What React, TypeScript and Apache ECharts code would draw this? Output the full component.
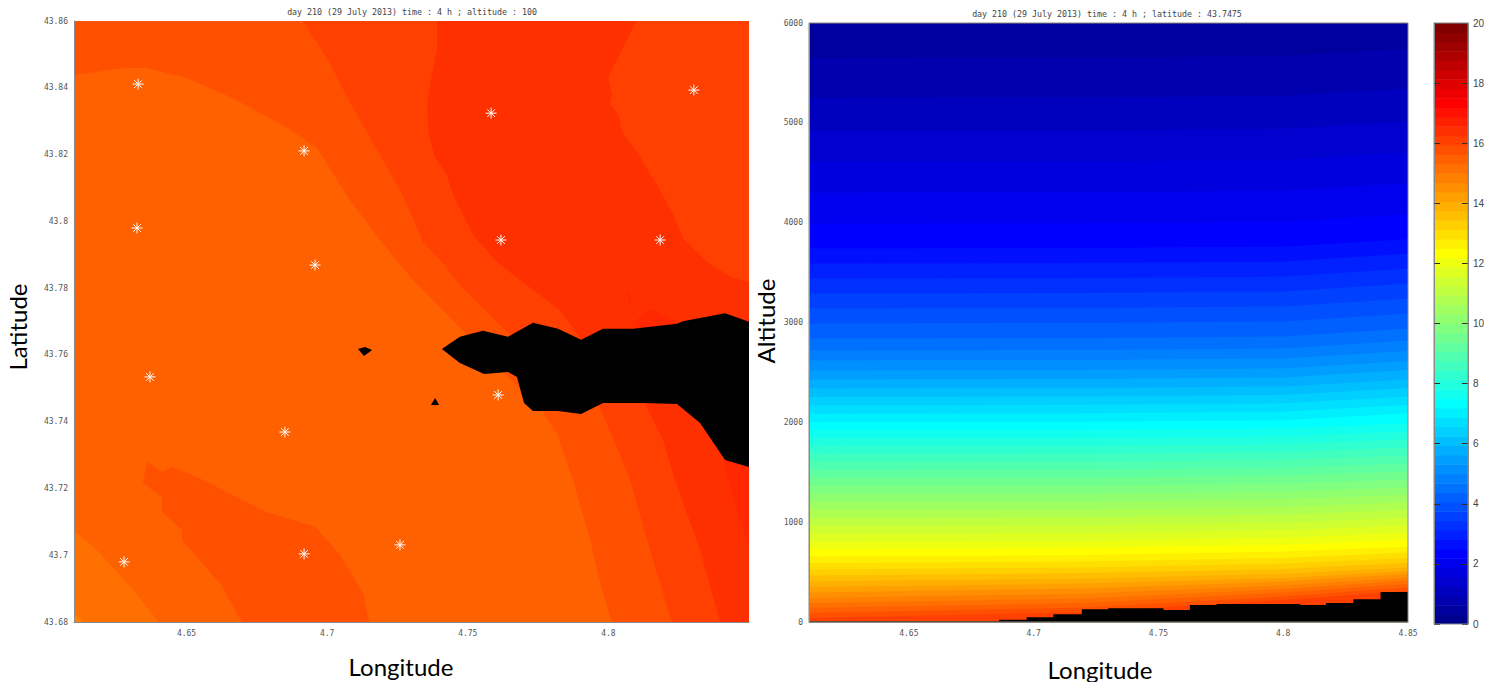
import React, { useEffect, useRef } from "react";
import * as echarts from "echarts";

// ---- tick labels ----
const mapLonTicks = [4.65, 4.7, 4.75, 4.8];
const sectionLonTicks = [4.65, 4.7, 4.75, 4.8, 4.85];
const latTicks = [43.68, 43.7, 43.72, 43.74, 43.76, 43.78, 43.8, 43.82, 43.84, 43.86];
const altitudeTicks = [0, 1000, 2000, 3000, 4000, 5000, 6000];
const colorbarTicks = [0, 2, 4, 6, 8, 10, 12, 14, 16, 18, 20];

const mapTitle = "day 210 (29 July 2013) time : 4 h ; altitude : 100";
const sectionTitle = "day 210 (29 July 2013) time : 4 h ; latitude : 43.7475";

// ---- left panel: stations [lon, lat] ----
const stations = [
  [4.6328, 43.8411], [4.6918, 43.8211], [4.6324, 43.798], [4.6957, 43.7869], [4.637, 43.7534],
  [4.685, 43.7369], [4.6278, 43.698], [4.6918, 43.7004], [4.7259, 43.7031], [4.7583, 43.8324],
  [4.7618, 43.7944], [4.7608, 43.748], [4.8304, 43.8393], [4.8184, 43.7944],
];

// ---- left panel: filled temperature contours [lon, lat] ----
const contourBase = [[4.61, 43.68], [4.85, 43.68], [4.85, 43.86], [4.61, 43.86]];
const contourNorthEast = [
  [4.61, 43.8438], [4.6274, 43.8459], [4.636, 43.8459], [4.6502, 43.8429], [4.6665, 43.8369], [4.6857, 43.828],
  [4.6964, 43.822], [4.7081, 43.8064], [4.7188, 43.7944], [4.7305, 43.7824], [4.7497, 43.766], [4.7768, 43.7429],
  [4.7817, 43.7366], [4.7874, 43.7225], [4.7935, 43.7046], [4.7977, 43.6896], [4.8013, 43.68], [4.85, 43.68],
  [4.85, 43.86], [4.61, 43.86],
];
const contourSouthPatch = [
  [4.636, 43.7282], [4.6413, 43.7249], [4.6448, 43.7264], [4.6537, 43.7234], [4.6786, 43.7129], [4.6957, 43.7085],
  [4.7046, 43.7001], [4.7128, 43.6887], [4.7149, 43.68], [4.6697, 43.68], [4.6619, 43.6917], [4.6555, 43.6977],
  [4.6484, 43.7046], [4.6484, 43.7076], [4.6413, 43.7129], [4.6413, 43.7174], [4.6345, 43.7216],
];
const contourSouthWest = [[4.61, 43.7073], [4.6192, 43.7007], [4.631, 43.6896], [4.6402, 43.68], [4.61, 43.68]];
const contourCorner = [[4.61, 43.6827], [4.6132, 43.68], [4.61, 43.68]];
const contourEast = [
  [4.6914, 43.86], [4.6964, 43.8534], [4.701, 43.8474], [4.7071, 43.8372], [4.7259, 43.8094], [4.7295, 43.8028],
  [4.7341, 43.7938], [4.7412, 43.7875], [4.7472, 43.7809], [4.765, 43.766], [4.797, 43.7441], [4.8016, 43.7354],
  [4.8077, 43.7225], [4.8148, 43.7016], [4.8226, 43.68], [4.85, 43.68], [4.85, 43.86],
];
const contourCore = [
  [4.7391, 43.86], [4.7391, 43.8519], [4.7355, 43.8357], [4.7359, 43.8268], [4.7384, 43.819], [4.7426, 43.8139],
  [4.7448, 43.8079], [4.7519, 43.7959], [4.7604, 43.7878], [4.7686, 43.7824], [4.7828, 43.7734], [4.7903, 43.7645],
  [4.85, 43.7645], [4.85, 43.7818], [4.8443, 43.783], [4.8351, 43.7878], [4.8265, 43.795], [4.8226, 43.8028],
  [4.8173, 43.8109], [4.8102, 43.8208], [4.8048, 43.8268], [4.8041, 43.8309], [4.8006, 43.8354], [4.8013, 43.8378],
  [4.7999, 43.8432], [4.8052, 43.8519], [4.8098, 43.86],
];
const contourCoreSouth = [
  [4.813, 43.7456], [4.8194, 43.7345], [4.8237, 43.7225], [4.8326, 43.7016], [4.8397, 43.68], [4.85, 43.68],
  [4.85, 43.76], [4.813, 43.76],
];
const contourHotSouth = [[4.8408, 43.7291], [4.8425, 43.7225], [4.8468, 43.7105], [4.85, 43.7031], [4.85, 43.7285]];
const contourHotPatch = [[4.8088, 43.7699], [4.8155, 43.7737], [4.8248, 43.7696], [4.8184, 43.7669], [4.8112, 43.7669]];
const contourHotSliver = [[4.8066, 43.7785], [4.808, 43.7785], [4.8077, 43.7749]];
const terrainMain = [
  [4.7408, 43.7618], [4.7472, 43.7654], [4.7554, 43.7672], [4.7643, 43.7654], [4.7732, 43.7696], [4.7821, 43.7678],
  [4.7903, 43.7645], [4.7981, 43.7678], [4.8088, 43.7678], [4.8244, 43.7693], [4.8265, 43.7701], [4.8415, 43.7725],
  [4.85, 43.7699], [4.85, 43.7264], [4.8415, 43.7285], [4.8326, 43.7396], [4.8244, 43.7453], [4.813, 43.7456],
  [4.7981, 43.7456], [4.7903, 43.7423], [4.7821, 43.7432], [4.7732, 43.7432], [4.77, 43.7456], [4.7675, 43.7534],
  [4.7643, 43.7549], [4.7558, 43.7543], [4.7472, 43.7576],
];
const terrainIslandA = [[4.711, 43.7618], [4.7135, 43.7624], [4.716, 43.7615], [4.7131, 43.7597]];
const terrainIslandB = [[4.7369, 43.745], [4.7398, 43.745], [4.7384, 43.7471]];

const mapRegions = [
  { points: contourBase, fill: "#ff6000" },
  { points: contourSouthWest, fill: "#ff7000" },
  { points: contourCorner, fill: "#ff8000" },
  { points: contourSouthPatch, fill: "#ff5000" },
  { points: contourNorthEast, fill: "#ff5000" },
  { points: contourEast, fill: "#ff4000" },
  { points: contourCore, fill: "#ff3000" },
  { points: contourCoreSouth, fill: "#ff3000" },
  { points: contourHotSouth, fill: "#ff2800" },
  { points: contourHotPatch, fill: "#ff2800" },
  { points: contourHotSliver, fill: "#ff2800" },
  { points: terrainMain, fill: "#000000" },
  { points: terrainIslandA, fill: "#000000" },
  { points: terrainIslandB, fill: "#000000" },
];

// ---- right panel: altitude of each isotherm (colour band 1..51) at four longitudes ----
const isothermLons = [4.61, 4.72, 4.8, 4.85];
const isothermAt461 = [5650, 5250, 4920, 4610, 4300, 3990, 3740, 3590, 3440, 3290, 3140, 2990, 2840, 2720, 2620, 2520, 2430, 2340, 2255, 2170, 2085, 2000, 1920, 1840, 1760, 1680, 1600, 1520, 1440, 1360, 1280, 1200, 1120, 1040, 960, 880, 800, 725, 655, 590, 525, 465, 405, 350, 295, 240, 190, 140, 90, 40, 0];
const isothermAt472 = [5655, 5255, 4925, 4615, 4305, 3995, 3745, 3595, 3445, 3295, 3145, 2995, 2845, 2725, 2625, 2525, 2435, 2345, 2260, 2175, 2090, 2005, 1925, 1845, 1765, 1685, 1605, 1525, 1445, 1365, 1285, 1205, 1125, 1050, 970, 890, 810, 740, 670, 605, 545, 490, 435, 385, 335, 285, 235, 190, 145, 100, 0];
const isothermAt480 = [5670, 5270, 4940, 4630, 4320, 4010, 3760, 3610, 3460, 3310, 3160, 3010, 2860, 2740, 2640, 2540, 2450, 2360, 2275, 2190, 2105, 2020, 1940, 1860, 1780, 1700, 1625, 1545, 1465, 1385, 1305, 1230, 1150, 1075, 995, 920, 845, 775, 705, 640, 585, 530, 480, 440, 405, 365, 330, 295, 255, 220, 0];
const isothermAt485 = [5745, 5345, 5015, 4705, 4395, 4085, 3835, 3690, 3540, 3390, 3240, 3090, 2940, 2820, 2715, 2615, 2525, 2430, 2345, 2260, 2175, 2090, 1990, 1910, 1830, 1750, 1670, 1590, 1510, 1430, 1350, 1275, 1200, 1125, 1045, 970, 895, 825, 755, 695, 640, 590, 545, 510, 480, 445, 415, 380, 345, 310, 0];
const isothermColumns = [isothermAt461, isothermAt472, isothermAt480, isothermAt485];

// ---- right panel: terrain steps (altitude holds from each lon to the next) ----
const terrainLon = [4.61, 4.6862, 4.6972, 4.7079, 4.7193, 4.7299, 4.752, 4.7626, 4.7733, 4.8067, 4.8171, 4.8281, 4.839, 4.85];
const terrainAlt = [7, 23, 47, 77, 127, 137, 120, 170, 180, 170, 190, 227, 300];

// ---- colour bar: lower edge of each of the 64 bands ----
const colorbarEdges = [
  0, 0.3125, 0.625, 0.9375, 1.25, 1.5625, 1.875, 2.1875, 2.5, 2.8125, 3.125, 3.4375, 3.75, 4.0625, 4.375, 4.6875,
  5, 5.3125, 5.625, 5.9375, 6.25, 6.5625, 6.875, 7.1875, 7.5, 7.8125, 8.125, 8.4375, 8.75, 9.0625, 9.375, 9.6875,
  10, 10.3125, 10.625, 10.9375, 11.25, 11.5625, 11.875, 12.1875, 12.5, 12.8125, 13.125, 13.4375, 13.75, 14.0625, 14.375, 14.6875,
  15, 15.3125, 15.625, 15.9375, 16.25, 16.5625, 16.875, 17.1875, 17.5, 17.8125, 18.125, 18.4375, 18.75, 19.0625, 19.375, 19.6875,
];
const colorbarTop = 20;

// Jet colour map, 64 steps
function jet(index: number): string {
  const k = index + 1;
  const g = k <= 8 ? 0 : k <= 24 ? (k - 8) / 16 : k <= 40 ? 1 : k <= 56 ? (56 - k) / 16 : 0;
  const r = k <= 24 ? 0 : k <= 40 ? (k - 24) / 16 : k <= 56 ? 1 : (72 - k) / 16;
  const b = k <= 8 ? (k + 8) / 16 : k <= 24 ? 1 : k <= 40 ? (40 - k) / 16 : 0;
  const hex = (v: number) => Math.round(v * 255).toString(16).padStart(2, "0");
  return "#" + hex(r) + hex(g) + hex(b);
}

const MONO = "'DejaVu Sans Mono', monospace";
const tickStyle = { fontFamily: MONO, fontSize: 8, color: "#555555" };
const frameLine = { show: true, onZero: false, lineStyle: { color: "#8a8a8a", width: 1 } };

function lonAxis(gridIndex: number, ticks: number[]) {
  return {
    type: "value", gridIndex, min: 4.61, max: 4.85, z: 10, splitLine: { show: false },
    axisLine: frameLine,
    axisTick: { show: false },
    axisLabel: { ...tickStyle, margin: 7, customValues: ticks, showMinLabel: true, showMaxLabel: true, formatter: (v: number) => String(v) },
  };
}

function valueAxis(gridIndex: number, min: number, max: number, ticks: number[]) {
  return {
    type: "value", gridIndex, min, max, z: 10, splitLine: { show: false },
    axisLine: frameLine,
    axisTick: { show: false },
    axisLabel: { ...tickStyle, margin: 6, customValues: ticks, showMinLabel: true, showMaxLabel: true, formatter: (v: number) => String(v) },
  };
}

function axisTitle(text: string, x: number, y: number, vertical: boolean) {
  return {
    type: "text", x, y, rotation: vertical ? Math.PI / 2 : 0, z: 20,
    style: { text, fontFamily: "Lato, sans-serif", fontSize: 24, fill: "#000000", align: "center", verticalAlign: "middle" },
  };
}

export default function App() {
  const ref = useRef<HTMLDivElement>(null);

  useEffect(() => {
    document.body.style.margin = "0";
    const chart = echarts.init(ref.current!, undefined, { renderer: "svg" });

    const mapRender = (params: any, api: any) => {
      const region = mapRegions[params.dataIndex];
      return {
        type: "polygon",
        shape: { points: region.points.map((p) => api.coord(p)) },
        style: { fill: region.fill },
      };
    };

    // Painted from the ground upwards, each band covering everything above it.
    const sectionRender = (params: any, api: any) => {
      const row = isothermAt461.length - 1 - params.dataIndex;
      const points = isothermLons.map((lon, j) => api.coord([lon, isothermColumns[j][row]]));
      points.push(api.coord([4.85, 6000]), api.coord([4.61, 6000]));
      return { type: "polygon", shape: { points }, style: { fill: jet(row + 1) } };
    };

    const terrainRender = (_params: any, api: any) => {
      const points: number[][] = [];
      terrainAlt.forEach((alt, i) => {
        points.push(api.coord([terrainLon[i], alt]), api.coord([terrainLon[i + 1], alt]));
      });
      points.push(api.coord([4.85, 0]), api.coord([4.61, 0]));
      return { type: "polygon", shape: { points }, style: { fill: "#000000" } };
    };

    const barRender = (params: any, api: any) => {
      const i = params.dataIndex;
      const upper = i + 1 < colorbarEdges.length ? colorbarEdges[i + 1] : colorbarTop;
      const a = api.coord([0, colorbarEdges[i]]);
      const b = api.coord([1, upper]);
      return {
        type: "rect",
        shape: { x: a[0], y: b[1], width: b[0] - a[0], height: a[1] - b[1] + 0.5 },
        style: { fill: jet(i) },
      };
    };

    chart.setOption({
      animation: false,
      backgroundColor: "#ffffff",
      title: [
        { text: mapTitle, left: 412, top: 8, padding: 0, textAlign: "center", textStyle: { fontFamily: MONO, fontSize: 8.3, fontWeight: "normal", color: "#444444" } },
        { text: sectionTitle, left: 1107, top: 10, padding: 0, textAlign: "center", textStyle: { fontFamily: MONO, fontSize: 8.3, fontWeight: "normal", color: "#444444" } },
      ],
      grid: [
        { left: 74, top: 21, width: 675, height: 601 },
        { left: 809, top: 23, width: 599, height: 599 },
        { left: 1434, top: 23, width: 34, height: 601 },
      ],
      xAxis: [
        lonAxis(0, mapLonTicks),
        lonAxis(1, sectionLonTicks),
        { type: "value", gridIndex: 2, min: 0, max: 1, show: false },
      ],
      yAxis: [
        valueAxis(0, 43.68, 43.86, latTicks),
        valueAxis(1, 0, 6000, altitudeTicks),
        {
          type: "value", gridIndex: 2, min: 0, max: 20, z: 10, splitLine: { show: false }, position: "left",
          axisLine: frameLine,
          axisTick: { show: true, inside: true, length: 6, customValues: colorbarTicks, lineStyle: { color: "#3a2a20" } },
          axisLabel: { show: false },
        },
        {
          type: "value", gridIndex: 2, min: 0, max: 20, z: 10, splitLine: { show: false }, position: "right",
          axisLine: frameLine,
          axisTick: { show: true, inside: true, length: 6, customValues: colorbarTicks, lineStyle: { color: "#3a2a20" } },
          axisLabel: {
            fontFamily: "'Liberation Sans', sans-serif", fontSize: 10, color: "#444444", margin: 5,
            customValues: colorbarTicks, showMinLabel: true, showMaxLabel: true, formatter: (v: number) => String(v),
          },
        },
      ],
      series: [
        { type: "custom", xAxisIndex: 0, yAxisIndex: 0, clip: true, renderItem: mapRender, data: mapRegions.map((_, i) => [i]), z: 2, silent: true },
        {
          type: "scatter", xAxisIndex: 0, yAxisIndex: 0, data: stations, z: 3, silent: true, symbolSize: 11,
          symbol: "path://M6 0L6 12M0 6L12 6M1.8 1.8L10.2 10.2M1.8 10.2L10.2 1.8",
          itemStyle: { color: "rgba(255,255,255,0)", borderColor: "#ffffff", borderWidth: 1, opacity: 1 },
        },
        { type: "custom", xAxisIndex: 1, yAxisIndex: 1, clip: true, renderItem: sectionRender, data: isothermAt461.map((_, i) => [i]), z: 2, silent: true },
        { type: "custom", xAxisIndex: 1, yAxisIndex: 1, clip: true, renderItem: terrainRender, data: [[0]], z: 3, silent: true },
        { type: "custom", xAxisIndex: 2, yAxisIndex: 2, clip: true, renderItem: barRender, data: colorbarEdges.map((_, i) => [i]), z: 2, silent: true },
      ],
      graphic: [
        axisTitle("Latitude", 17, 327, true),
        axisTitle("Longitude", 401, 666, false),
        axisTitle("Altitude", 765, 321, true),
        axisTitle("Longitude", 1100, 669, false),
        { type: "rect", z: 15, shape: { x: 809, y: 23, width: 599, height: 599 }, style: { fill: "none", stroke: "#8a8a7a", lineWidth: 1 } },
        { type: "rect", z: 15, shape: { x: 1434, y: 23, width: 34, height: 601 }, style: { fill: "none", stroke: "#8a8a8a", lineWidth: 1 } },
      ],
    });

    return () => chart.dispose();
  }, []);

  return <div ref={ref} style={{ position: "absolute", left: 0, top: 0, width: 1494, height: 682 }} />;
}
